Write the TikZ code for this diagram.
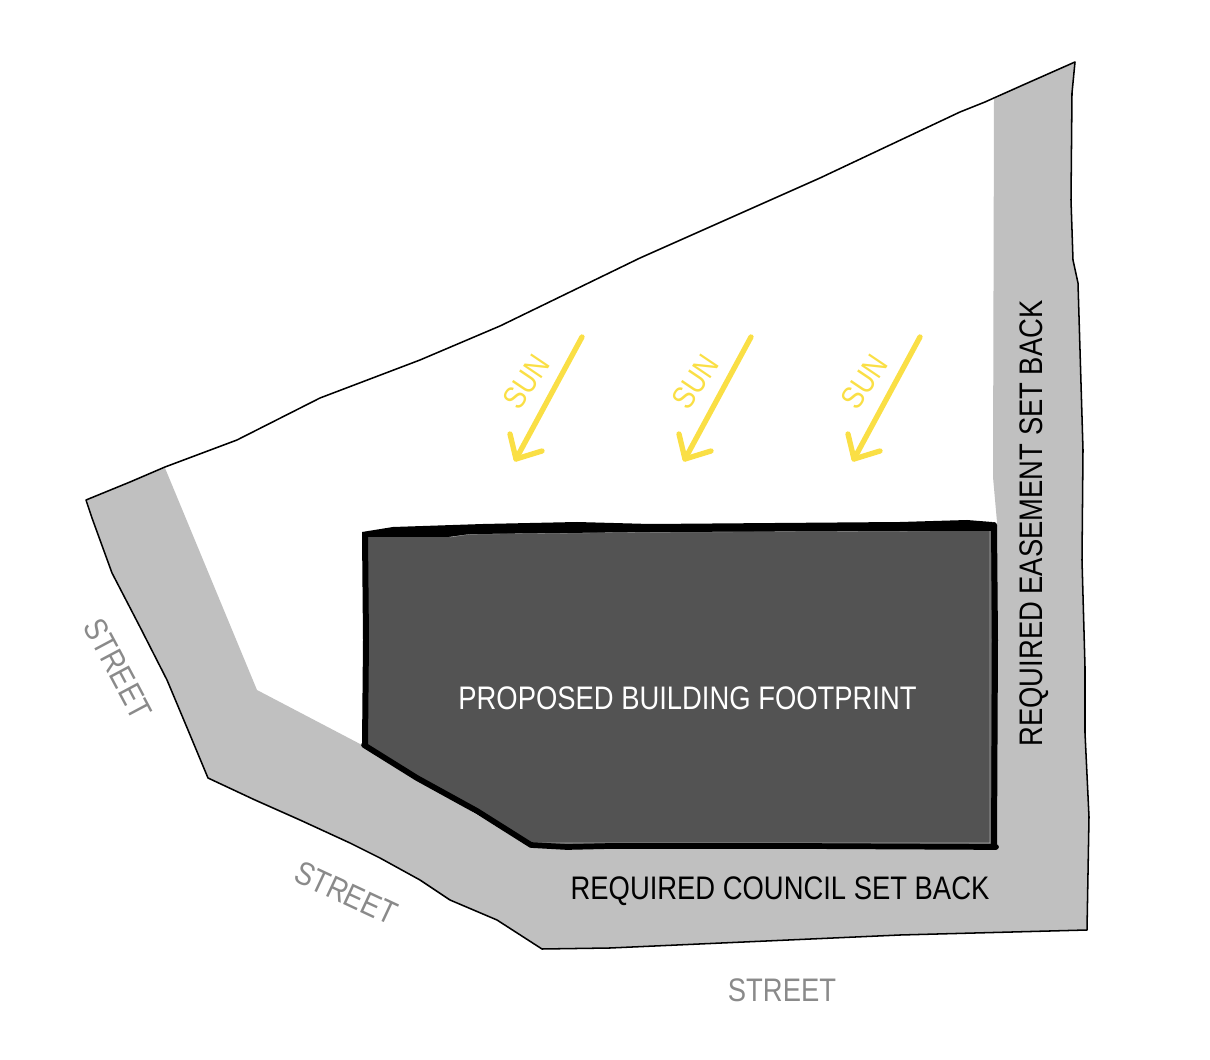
\documentclass[tikz,border=0pt]{standalone}
\usepackage{fontspec}
\setmainfont{Liberation Sans}
\newfontfamily\narrowfont[FakeStretch=0.84]{Liberation Sans}
\definecolor{setback}{HTML}{C0C0C0}
\definecolor{bldg}{HTML}{535353}
\definecolor{rim}{HTML}{A8A8A8}
\definecolor{sun}{HTML}{FADF45}
\definecolor{street}{HTML}{8A8A8A}
\tikzset{x=0.0264cm,y=-0.0264cm,
 lbl/.style={font=\narrowfont\fontsize{24.5}{27}\selectfont,inner sep=0pt},
 sunarrow/.style={draw=sun,line width=4pt,line cap=round,line join=round},
 sunlbl/.style={text=sun,font=\narrowfont\fontsize{24}{26}\selectfont,inner sep=0pt,rotate=56},
 lotline/.style={line width=1.15pt,line join=round,line cap=round}}
\begin{document}
\begin{tikzpicture}
\useasboundingbox (0,0) rectangle (1210,1060);
% setbacks
\fill[setback] (994,99) -- (1023,85) -- (1075,62) -- (1072,93) -- (1071,200) -- (1073,260) -- (1078,283) -- (1080,350) -- (1083,450) -- (1082,560) -- (1085,667) -- (1085,733) -- (1089,817) -- (1087,930) -- (900,935) -- (610,948) -- (542,949) -- (497,920) -- (450,900) -- (420,880) -- (380,858) -- (350,843) -- (300,820) -- (255,800) -- (208,778) -- (188,730) -- (167,680) -- (140,627) -- (112,573) -- (92,518) -- (87,500) -- (130,482) -- (165,468) -- (257,690) -- (362,745) -- (530,847) -- (997,848) -- (997,522) -- (993,477) -- cycle;
% building
\fill[bldg] (365,534) -- (470,532) -- (650,529) -- (900,527) -- (994,526) -- (994,846) -- (530,845) -- (365,744) -- cycle;
\draw[rim,line width=0.5pt] (450,537) -- (470,534) -- (650,532) -- (900,531) -- (990,530) -- (990,843) -- (530,843);
% building outline
\draw[line width=4.5pt,line join=round] (365,745) -- (366,640) -- (365,535);
\fill (362,532) -- (393,527) -- (483,524) -- (577,522) -- (650,524) -- (900,522) -- (967,520) -- (992,522) -- (997,526) -- (991,531) -- (900,531) -- (650,532) -- (470,534) -- (447,537) -- (368,537) -- (362,538) -- cycle;
\draw[line width=4.5pt,line join=round,line cap=round] (994,525) -- (995,640) -- (994,847);
\draw[line width=4.3pt,line join=round,line cap=round] (364,745) -- (417,778) -- (477,811) -- (531,845) -- (567,847) -- (610,846) -- (800,846) -- (996,847);
% lot outline
\draw[lotline] (86,500) -- (130,482) -- (165,467) -- (237,440) -- (320,398) -- (420,360) -- (500,326) -- (640,258) -- (820,178) -- (960,112) -- (985,102) -- (1023,85) -- (1075,62) -- (1072,93) -- (1071,200) -- (1073,260) -- (1078,283) -- (1080,350) -- (1083,450) -- (1082,560) -- (1085,667) -- (1085,733) -- (1089,817) -- (1087,930) -- (900,935) -- (610,948) -- (542,949) -- (497,920) -- (450,900) -- (420,880) -- (380,858) -- (350,843) -- (300,820) -- (255,800) -- (208,778) -- (188,730) -- (167,680) -- (140,627) -- (112,573) -- (92,518) -- cycle;
% labels
\node[lbl,text=white] (fp) at (687.5,698) {PROPOSED BUILDING FOOTPRINT};
\node[lbl] (council) at (780,891) {REQUIRED COUNCIL SET BACK};
\node[lbl,rotate=90] (ease) at (1034,523.5) {REQUIRED EASEMENT SET BACK};
\node[lbl,text=street,rotate=-62] (s1) at (118,669) {STREET};
\node[lbl,text=street,rotate=-25] (s2) at (346,893) {STREET};
\node[lbl,text=street] (s3) at (782,990) {STREET};
% sun
\foreach \dx/\n in {0/a,169/b,338/c}{
 \coordinate (t\n) at (582+\dx,337);
 \coordinate (h\n) at (516+\dx,459);
 \coordinate (l\n) at (510+\dx,434);
 \coordinate (r\n) at (542+\dx,451);
 \draw[sunarrow] (t\n) -- (h\n);
 \draw[sunarrow] (l\n) -- (h\n) -- (r\n);
 \node[sunlbl] (sun\n) at (526+\dx,382) {SUN};
}
\end{tikzpicture}
\end{document}
